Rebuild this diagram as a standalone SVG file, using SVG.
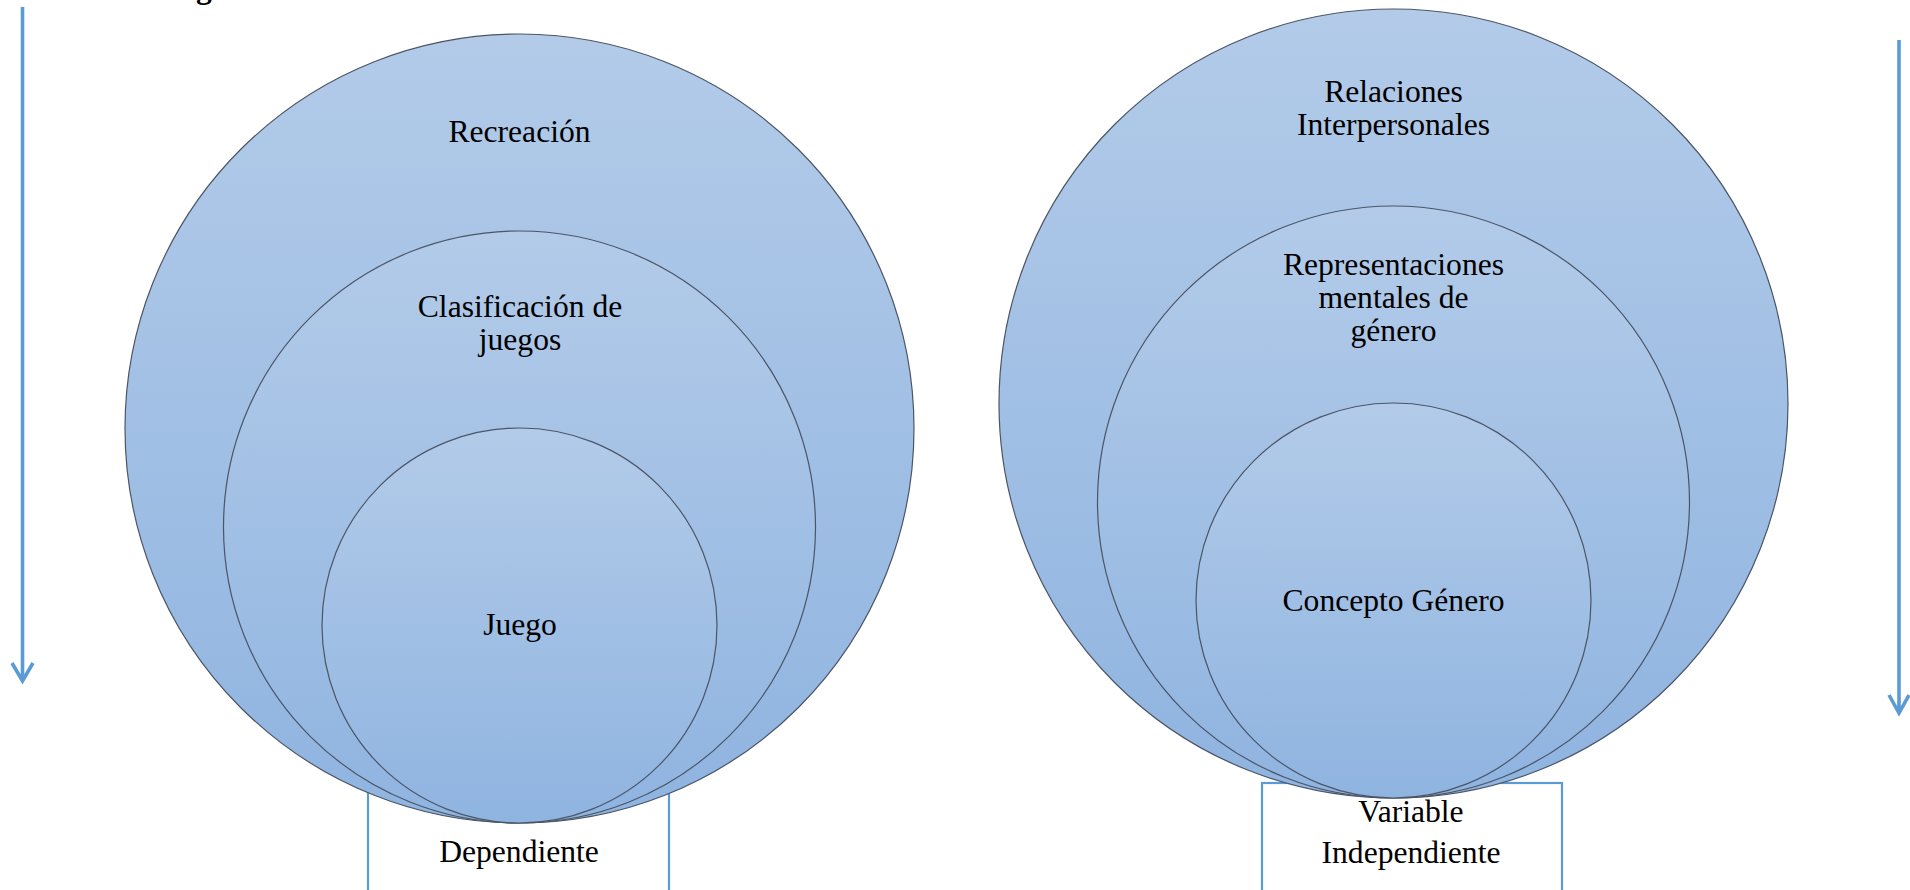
<svg xmlns="http://www.w3.org/2000/svg" width="1910" height="890" viewBox="0 0 1910 890">
<style>
.t{font-family:"Liberation Serif","Times New Roman",serif;font-size:31.6px;fill:#000;text-anchor:middle}
.c{fill:url(#g);stroke:#4b5566;stroke-width:1.2}
.box{fill:#fff;stroke:#5b9bd5;stroke-width:2.2}
.arr{fill:none;stroke:#5b9bd5;stroke-width:3.6}
</style>
<defs>
<linearGradient id="g" x1="0" y1="0" x2="0" y2="1">
<stop offset="0" stop-color="#b3cbe9"/>
<stop offset="1" stop-color="#8fb4e0"/>
</linearGradient>
</defs>
<rect width="1910" height="890" fill="#fff"/>
<text class="t" x="204" y="-2" style="font-weight:bold">g</text>
<g id="connectors">
<path class="arr" d="M22.5 7 V681 M12 663 L22.5 681 L33 663"/>
<path class="arr" d="M1899 40 V713 M1889 695 L1899 713 L1909 695"/>
</g>
<g id="box-dependiente">
<rect class="box" x="368" y="780" width="301" height="120"/>
<text class="t" x="519" y="862">Dependiente</text>
</g>
<g id="box-independiente">
<rect class="box" x="1262" y="783" width="300" height="120"/>
<text class="t" x="1411" y="822">Variable</text>
<text class="t" x="1411" y="863">Independiente</text>
</g>
<g id="recreacion">
<circle class="c" cx="519.5" cy="428.5" r="394.5"/>
<text class="t" x="519.5" y="142">Recreación</text>
</g>
<g id="clasificacion">
<circle class="c" cx="519.5" cy="527" r="296"/>
<text class="t" x="520" y="317">Clasificación de</text>
<text class="t" x="520" y="350">juegos</text>
</g>
<g id="juego">
<circle class="c" cx="519.5" cy="625.5" r="197.5"/>
<text class="t" x="520" y="635">Juego</text>
</g>
<g id="relaciones">
<circle class="c" cx="1393.5" cy="403.5" r="394.5"/>
<text class="t" x="1393.5" y="102">Relaciones</text>
<text class="t" x="1393.5" y="135">Interpersonales</text>
</g>
<g id="representaciones">
<circle class="c" cx="1393.5" cy="502" r="296"/>
<text class="t" x="1393.5" y="275">Representaciones</text>
<text class="t" x="1393.5" y="308">mentales de</text>
<text class="t" x="1393.5" y="341">género</text>
</g>
<g id="concepto">
<circle class="c" cx="1393.5" cy="600.5" r="197.5"/>
<text class="t" x="1393.5" y="611">Concepto Género</text>
</g>
</svg>
